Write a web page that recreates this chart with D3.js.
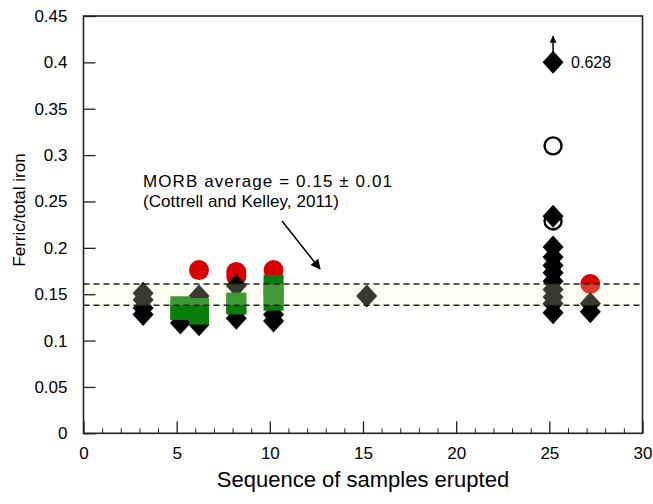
<!DOCTYPE html>
<html>
<head>
<meta charset="utf-8">
<script src="https://cdn.jsdelivr.net/npm/d3@7"></script>
<style>
  html, body { margin: 0; padding: 0; background: #fff; }
  svg { display: block; font-family: "Liberation Sans", Arial, sans-serif; }
</style>
</head>
<body>
<svg id="chart" width="653" height="504"></svg>
<script>
// Ferric / total iron ratio against eruption sequence
const diamondX = [3.2, 3.2, 3.2, 3.2,
                  5.2, 5.2,
                  6.2, 6.2, 6.2,
                  8.2, 8.2, 8.2,
                  10.2, 10.2,
                  15.2,
                  25.2, 25.2, 25.2, 25.2, 25.2, 25.2, 25.2, 25.2, 25.2, 25.2, 25.2,
                  27.2, 27.2];
const diamondY = [0.151, 0.144, 0.135, 0.128,
                  0.125, 0.119,
                  0.148, 0.122, 0.117,
                  0.159, 0.131, 0.124,
                  0.128, 0.121,
                  0.148,
                  0.400, 0.234, 0.201, 0.190, 0.181, 0.173, 0.164, 0.155, 0.147, 0.140, 0.130,
                  0.140, 0.131];

const squareX = [5.2, 5.2, 6.2, 6.2, 8.2, 8.2, 10.2, 10.2, 10.2];
const squareY = [0.137, 0.133, 0.135, 0.128, 0.141, 0.139, 0.160, 0.151, 0.143];

const redX = [6.2, 8.2, 8.2, 10.2, 27.2];
const redY = [0.176, 0.174, 0.169, 0.176, 0.161];

const openX = [25.2, 25.2];
const openY = [0.310, 0.229];

// off-scale point: plotted at 0.40, true value 0.628
const offScaleX = 25.2;
const offScaleY = 0.40;
const offScaleLabel = "0.628";

const morbBand = [0.138, 0.161];

const xTicks = [0, 5, 10, 15, 20, 25, 30];
const xMinorTicks = d3.range(0, 31, 1);
const yTicks = [0, 0.05, 0.1, 0.15, 0.2, 0.25, 0.3, 0.35, 0.4, 0.45];
const yTickLabels = ["0", "0.05", "0.1", "0.15", "0.2", "0.25", "0.3", "0.35", "0.4", "0.45"];

const svg = d3.select("#chart");
const x = d3.scaleLinear().domain([0, 30]).range([83.5, 642.5]);
const y = d3.scaleLinear().domain([0, 0.45]).range([433.3, 16]);

const plot = svg.append("g");

// red circles (bottom layer)
plot.selectAll("circle.red").data(redX).join("circle")
  .attr("class", "red")
  .attr("cx", (d, i) => x(d)).attr("cy", (d, i) => y(redY[i]))
  .attr("r", 10).attr("fill", "#d80000");

// open circles
plot.selectAll("circle.open").data(openX).join("circle")
  .attr("class", "open")
  .attr("cx", d => x(d)).attr("cy", (d, i) => y(openY[i]))
  .attr("r", 8.5).attr("fill", "#fff").attr("stroke", "#000").attr("stroke-width", 2.4);

// black diamonds
const diamond = "M0,-11.5L10.5,0L0,11.5L-10.5,0Z";
plot.selectAll("path.dia").data(diamondX).join("path")
  .attr("class", "dia")
  .attr("d", diamond)
  .attr("transform", (d, i) => `translate(${x(d)},${y(diamondY[i])})`)
  .attr("fill", "#000");

// green squares
plot.selectAll("rect.sq").data(squareX).join("rect")
  .attr("class", "sq")
  .attr("x", d => x(d) - 10).attr("y", (d, i) => y(squareY[i]) - 10)
  .attr("width", 20).attr("height", 20)
  .attr("fill", "#0a7d0a");

// MORB band, translucent over the markers
plot.append("rect")
  .attr("x", x(0)).attr("width", x(30) - x(0))
  .attr("y", y(morbBand[1])).attr("height", y(morbBand[0]) - y(morbBand[1]))
  .attr("fill", "#f5f5c8").attr("fill-opacity", 0.23);

plot.selectAll("line.band").data(morbBand).join("line")
  .attr("class", "band")
  .attr("x1", x(0)).attr("x2", x(30))
  .attr("y1", d => y(d)).attr("y2", d => y(d))
  .attr("stroke", "#222").attr("stroke-width", 1.5)
  .attr("stroke-dasharray", "6,4");

// arrowheads
const defs = svg.append("defs");
defs.append("marker")
  .attr("id", "head").attr("viewBox", "0 0 10 10")
  .attr("refX", 9).attr("refY", 5)
  .attr("markerWidth", 7).attr("markerHeight", 7)
  .attr("markerUnits", "userSpaceOnUse")
  .attr("orient", "auto")
  .append("path").attr("d", "M0,0L10,5L0,10Z").attr("fill", "#000");

defs.append("marker")
  .attr("id", "head2").attr("viewBox", "0 0 10 10")
  .attr("refX", 9).attr("refY", 5)
  .attr("markerWidth", 12).attr("markerHeight", 10)
  .attr("markerUnits", "userSpaceOnUse")
  .attr("orient", "auto")
  .append("path").attr("d", "M0,0L10,5L0,10Z").attr("fill", "#000");

// off-scale marker label and arrow
svg.append("line")
  .attr("x1", x(offScaleX)).attr("x2", x(offScaleX))
  .attr("y1", y(offScaleY) - 10).attr("y2", y(offScaleY) - 26)
  .attr("stroke", "#000").attr("stroke-width", 1.5)
  .attr("marker-end", "url(#head)");

svg.append("text")
  .attr("x", x(offScaleX) + 18).attr("y", y(offScaleY) + 5.5)
  .attr("font-size", 16).attr("fill", "#000")
  .text(offScaleLabel);

// MORB annotation
const note = svg.append("text").attr("font-size", 17).attr("fill", "#000");
note.append("tspan").attr("x", 143).attr("y", 187)
  .attr("textLength", 249).attr("lengthAdjust", "spacing")
  .text("MORB average = 0.15 \u00b1 0.01");
note.append("tspan").attr("x", 143).attr("y", 207)
  .attr("textLength", 196).attr("lengthAdjust", "spacing")
  .text("(Cottrell and Kelley, 2011)");

svg.append("line")
  .attr("x1", 282).attr("y1", 221).attr("x2", 320).attr("y2", 269)
  .attr("stroke", "#000").attr("stroke-width", 1.5)
  .attr("marker-end", "url(#head2)");

// axes
const xAxis = d3.axisBottom(x).tickValues(xTicks).tickFormat(d3.format("d"))
  .tickSizeInner(-12).tickSizeOuter(0).tickPadding(14);
const gx = svg.append("g").attr("transform", `translate(0,${y(0)})`).call(xAxis);
gx.select(".domain").remove();
gx.selectAll("text").attr("font-size", 17).attr("fill", "#000")
  .attr("font-family", "'Liberation Sans', Arial, sans-serif");
gx.selectAll("line").attr("stroke", "#222").attr("stroke-width", 1.3);

const xMinor = d3.axisBottom(x).tickValues(xMinorTicks.filter(d => d % 5 !== 0))
  .tickFormat("").tickSizeInner(-5).tickSizeOuter(0);
const gxm = svg.append("g").attr("transform", `translate(0,${y(0)})`).call(xMinor);
gxm.select(".domain").remove();
gxm.selectAll("line").attr("stroke", "#222").attr("stroke-width", 1);

const yAxis = d3.axisLeft(y).tickValues(yTicks).tickFormat((d, i) => yTickLabels[i])
  .tickSizeInner(-12).tickSizeOuter(0).tickPadding(16);
const gy = svg.append("g").attr("transform", `translate(${x(0)},0)`).call(yAxis);
gy.select(".domain").remove();
gy.selectAll("text").attr("font-size", 17).attr("fill", "#000")
  .attr("font-family", "'Liberation Sans', Arial, sans-serif");
gy.selectAll("line").attr("stroke", "#222").attr("stroke-width", 1.3);

// frame
svg.append("rect")
  .attr("x", x(0)).attr("y", y(0.45))
  .attr("width", x(30) - x(0)).attr("height", y(0) - y(0.45))
  .attr("fill", "none").attr("stroke", "#222").attr("stroke-width", 1.6);

// axis titles
svg.append("text")
  .attr("x", (x(0) + x(30)) / 2).attr("y", 487)
  .attr("text-anchor", "middle").attr("font-size", 22).attr("fill", "#000")
  .text("Sequence of samples erupted");

svg.append("text")
  .attr("transform", "translate(25,210) rotate(-90)")
  .attr("text-anchor", "middle").attr("font-size", 17).attr("fill", "#000")
  .text("Ferric/total iron");
</script>
</body>
</html>
